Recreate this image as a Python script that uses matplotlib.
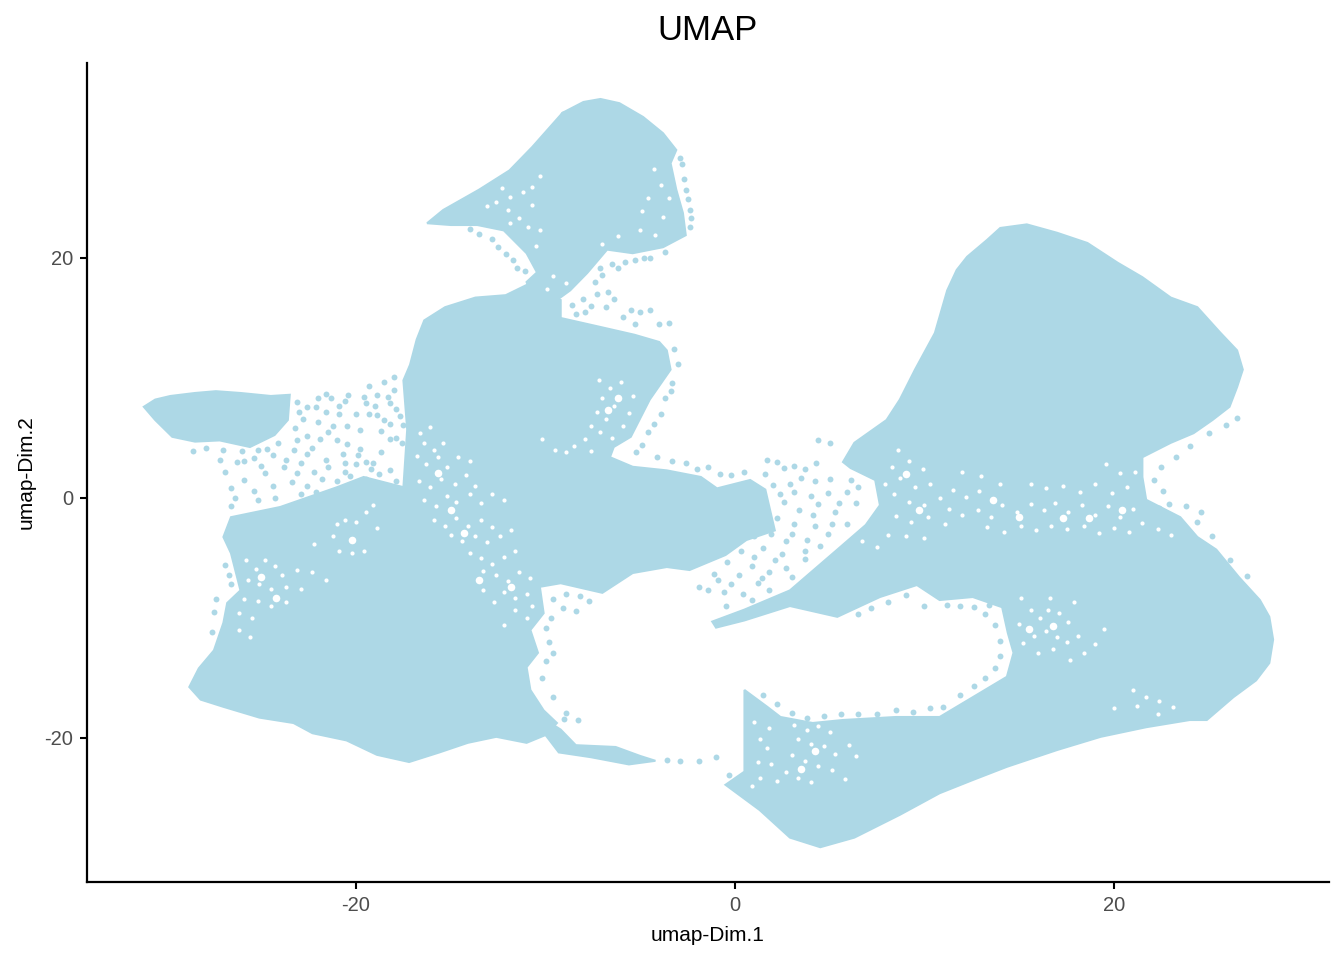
import matplotlib
matplotlib.use("Agg")
import matplotlib.pyplot as plt

plt.rcParams['font.family'] = ['Liberation Sans', 'DejaVu Sans']

POINT = '#ADD8E6'

wing = [(-31.2,7.6),(-30.6,8.2),(-29.8,8.5),(-28.5,8.75),(-27.4,8.9),(-26.1,8.75),(-24.5,8.5),(-23.5,8.6),(-23.6,6.5),(-24.3,5.25),(-25.6,4.25),(-27.2,4.8),(-28.5,4.7),(-29.7,5.1),(-30.6,6.5)]
left_mass = [(-16.4,14.8),(-15.3,15.9),(-13.7,16.7),(-12.1,16.9),(-11.0,17.75),(-9.2,16.5),(-9.2,15.0),(-7.1,14.25),(-5.3,13.6),(-4.0,13.0),(-3.6,12.3),(-3.4,10.7),(-4.5,8.2),(-5.5,5.1),(-6.4,4.25),(-6.6,3.4),(-5.4,2.6),(-3.6,2.3),(-1.8,1.75),(-0.95,0.8),(0.8,1.5),(1.6,0.7),(1.85,-1.0),(2.1,-2.7),(0.6,-3.5),(-0.5,-4.75),(-2.4,-6.0),(-3.6,-5.75),(-5.4,-6.25),(-7.0,-7.9),(-9.2,-7.1),(-10.3,-7.4),(-10.1,-9.6),(-10.8,-11.0),(-10.4,-12.9),(-11.0,-14.1),(-10.8,-16.0),(-10.1,-17.7),(-9.4,-18.75),(-10.0,-19.75),(-11.0,-20.4),(-12.6,-19.9),(-14.1,-20.4),(-15.6,-21.2),(-17.2,-22.0),(-18.9,-21.4),(-20.5,-20.2),(-22.3,-19.6),(-23.3,-18.75),(-25.1,-18.3),(-27.0,-17.4),(-28.2,-16.8),(-28.8,-15.75),(-28.3,-14.2),(-27.5,-12.7),(-27.0,-10.4),(-26.8,-8.75),(-26.1,-7.7),(-26.6,-4.6),(-27.0,-3.25),(-26.6,-1.6),(-24.0,-0.75),(-21.0,0.9),(-19.6,1.75),(-17.5,0.9),(-17.3,5.7),(-17.5,9.8),(-17.15,11.1),(-16.8,13.2)]
tail = [(-10.0,-18.5),(-9.2,-19.3),(-8.4,-20.6),(-6.3,-20.75),(-5.0,-21.5),(-4.2,-21.9),(-5.6,-22.2),(-7.6,-21.6),(-9.3,-21.2),(-10.0,-19.75)]
head = [(-16.25,22.9),(-15.4,24.0),(-13.5,25.7),(-11.9,27.3),(-10.7,29.25),(-9.1,32.1),(-8.0,33.0),(-7.1,33.25),(-6.1,32.9),(-4.85,31.75),(-3.8,30.4),(-3.1,29.0),(-3.4,27.9),(-3.1,25.7),(-2.75,23.75),(-2.6,21.9),(-3.8,20.9),(-5.4,20.4),(-6.75,20.7),(-7.8,18.75),(-8.7,17.3),(-9.4,16.5),(-10.7,16.75),(-11.0,18.0),(-10.45,18.8),(-11.0,20.4),(-12.2,22.3),(-13.6,22.75),(-15.0,22.75)]
right_mass = [(10.55,13.75),(11.2,17.3),(11.7,19.0),(12.25,20.1),(13.3,21.5),(14.0,22.5),(15.4,22.8),(17.0,22.1),(18.6,21.25),(20.2,19.6),(21.5,18.4),(23.0,16.7),(24.4,15.9),(25.6,13.8),(26.5,12.3),(26.8,10.7),(26.5,9.25),(26.1,7.6),(25.2,6.5),(24.2,5.4),(23.0,4.6),(21.5,3.4),(21.5,1.75),(21.7,-0.15),(23.5,-1.6),(24.4,-3.25),(25.4,-4.3),(26.6,-6.6),(27.7,-8.5),(28.2,-9.9),(28.4,-11.8),(28.2,-13.75),(27.5,-15.2),(26.3,-16.6),(24.9,-18.5),(24.0,-18.5),(21.7,-19.1),(19.3,-19.9),(17.0,-21.0),(14.35,-22.4),(12.55,-23.5),(10.8,-24.6),(8.7,-26.4),(6.3,-28.3),(4.5,-29.1),(2.9,-28.3),(1.3,-26.0),(-0.5,-23.9),(0.5,-22.8),(0.5,-20.6),(0.5,-16.0),(1.7,-17.4),(2.4,-18.25),(4.1,-18.75),(5.7,-18.5),(8.5,-18.25),(10.8,-18.25),(12.55,-16.6),(14.35,-14.9),(14.7,-12.9),(14.4,-11.25),(14.1,-9.1),(12.55,-8.25),(10.8,-8.5),(9.6,-7.25),(7.65,-8.25),(5.4,-9.9),(2.9,-9.0),(0.5,-10.2),(-1.0,-10.8),(-1.2,-10.3),(0.5,-9.3),(2.9,-7.7),(5.4,-4.3),(6.9,-2.25),(7.65,-0.6),(7.4,1.5),(6.1,2.5),(5.7,3.0),(6.3,4.6),(8.0,6.5),(8.7,8.2),(9.5,10.7)]
outlines = [wing, left_mass, tail, head, right_mass]

# Loose points outside the solid areas
loose_wing = [(-23.1,4.8),(-21.9,4.9),(-21.0,4.8),(-20.5,4.5),(-19.8,4.1),(-22.6,3.7),(-20.7,3.7),(-19.9,3.6),(-21.6,3.2),(-20.6,2.9),(-20.0,2.8),(-19.5,3.0),(-19.1,2.9),(-18.7,3.8),(-18.5,6.5),(-17.7,6.8),(-18.2,6.2),(-18.7,5.6),(-17.9,5.0),(-17.6,4.6),(-17.5,6.1),(-22.0,6.3),(-21.2,6.0),(-20.5,6.0),(-19.8,5.7),(-20.9,7.0),(-20.0,7.0),(-19.3,7.0),(-19.0,7.7),(-18.2,7.9),(-18.9,8.6),(-18.0,9.0),(-19.6,8.4),(-20.6,8.1),(-21.3,8.3),(-22.0,8.3),(-22.6,7.6),(-21.6,7.2),(-22.8,6.6),(-23.2,5.8),(-24.4,3.6),(-25.4,3.3),(-26.3,3.0),(-27.2,3.2),(-23.8,2.6),(-22.9,2.9),(-22.2,2.2),(-24.8,2.1),(-25.9,1.5),(-26.6,0.8),(-25.4,0.6),(-24.4,1.0),(-23.4,1.3),(-22.6,1.0),(-21.8,1.6),(-21.0,1.4),(-20.3,1.8),(-19.5,1.6),(-18.8,2.0),(-18.2,2.3),(-17.9,1.4),(-25.2,-0.2),(-24.3,0.0),(-22.9,0.3),(-22.1,0.5),(-26.4,0.0),(-27.0,4.0),(-26.0,3.9),(-25.2,4.0),(-23.3,4.0),(-22.3,4.2),(-18.2,4.9),(-24.1,4.6),(-23.7,3.2),(-25.0,2.7),(-26.9,2.2),(-23.1,2.1),(-21.5,2.6),(-20.6,2.2),(-19.2,2.4),(-22.6,5.2),(-21.5,5.5),(-18.9,6.9),(-17.9,7.4),(-18.3,8.4),(-19.5,7.9),(-20.9,7.7),(-22.1,7.6),(-23.0,7.2),(-23.1,8.0),(-21.6,8.7),(-20.4,8.6),(-19.3,9.3),(-18.5,9.7),(-18.0,10.1),(-24.7,4.1),(-25.9,3.1),(-27.9,4.2),(-28.6,3.9)]
loose_center_edge = [(-3.2,12.4),(-3.0,11.2),(-3.3,9.6),(-3.7,8.3),(-3.9,7.0),(-4.3,6.2),(-3.4,8.9),(-4.6,5.5),(-4.9,4.4),(-5.2,3.8),(-4.1,3.4),(-3.3,3.1),(-2.6,2.9),(-2.0,2.4),(-1.4,2.6),(-0.8,2.0),(-0.2,1.9),(0.5,2.2),(-8.2,-8.2),(-7.7,-8.6),(-8.9,-8.0),(-9.6,-8.4),(-9.1,-9.2),(-8.4,-9.4),(-9.7,-10.0),(-10.0,-10.8),(-9.8,-12.0),(-9.6,-12.9),(-10.0,-13.6),(-10.2,-15.0),(-9.6,-16.6),(-8.9,-17.9),(-8.3,-18.5),(-9.0,-18.4),(-3.6,-21.8),(-2.9,-21.9),(-1.9,-21.9),(-1.0,-21.6),(-0.3,-23.1),(-27.5,-9.5),(-27.4,-8.4),(-27.6,-11.2),(-26.7,-6.4),(-26.9,-5.6),(-26.6,-7.2),(-26.6,-0.7)]
loose_head = [(-9.1,32.0),(-2.9,28.3),(-2.8,27.8),(-2.7,26.6),(-2.6,25.7),(-2.5,24.9),(-2.4,24.0),(-2.3,23.3),(-2.4,22.6),(-4.5,20.0),(-5.3,19.8),(-5.8,19.7),(-6.5,19.5),(-7.1,19.2),(-6.2,19.2),(-4.8,20.0),(-3.7,20.5),(-7.0,18.6),(-7.4,18.0),(-6.7,17.2),(-6.4,16.6),(-7.3,17.0),(-6.8,15.9),(-5.9,15.1),(-5.5,15.7),(-5.0,15.5),(-4.5,15.7),(-5.3,14.5),(-4.0,14.5),(-3.5,14.6),(-8.0,16.6),(-7.6,16.0),(-7.9,15.5),(-8.6,16.1),(-8.4,15.3),(-14.0,22.4),(-13.5,22.0),(-12.8,21.6),(-12.5,20.9),(-12.1,20.3),(-11.7,19.8),(-11.5,19.2),(-11.1,18.9)]
loose_gap = [(1.7,3.2),(2.2,3.0),(2.6,2.5),(1.6,2.0),(2.0,1.1),(3.1,2.7),(3.7,2.4),(4.4,4.8),(5.0,4.6),(3.5,1.7),(4.2,1.4),(5.0,1.6),(3.1,0.5),(4.0,0.2),(4.9,0.4),(5.9,0.5),(2.6,-0.3),(3.4,-1.0),(4.4,-0.5),(5.3,-1.2),(6.4,-0.4),(3.1,-2.2),(4.2,-2.3),(4.9,-3.0),(5.9,-2.2),(2.7,-3.6),(3.8,-3.5),(2.5,-4.7),(1.5,-4.2),(1.0,-3.2),(0.3,-4.4),(-0.4,-5.3),(0.9,-5.7),(1.8,-6.2),(2.7,-5.8),(3.7,-5.1),(4.5,-4.0),(-0.9,-6.8),(0.2,-6.4),(1.2,-7.1),(-1.4,-7.7),(-0.6,-7.8),(0.4,-8.0),(1.8,-7.7),(-0.5,-9.0),(-1.9,-7.4),(-1.1,-6.3),(2.2,-1.7),(1.9,-3.0),(3.0,-3.0),(4.1,-1.4),(5.1,-2.2),(5.5,-0.4),(2.9,1.2),(4.3,2.9),(2.4,0.3),(3.7,-4.4),(1.0,-4.9),(-0.2,-7.2),(0.9,-8.5),(1.4,-6.7),(2.1,-5.2),(3.0,-6.6),(6.5,0.9),(6.1,1.5)]
loose_right_edge = [(22.1,1.5),(22.6,0.6),(22.9,-0.5),(22.5,2.6),(23.3,3.4),(24.0,4.3),(25.0,5.4),(25.9,6.1),(26.5,6.7),(24.4,-2.0),(25.2,-3.2),(26.1,-5.2),(27.0,-6.5),(22.4,-0.8),(23.8,-0.7),(24.6,-1.2)]
loose_hole_edge = [(13.4,-8.9),(12.6,-9.1),(11.9,-9.0),(11.2,-8.9),(13.2,-9.7),(13.7,-10.6),(14.0,-11.9),(14.0,-13.2),(13.7,-14.2),(13.2,-15.0),(12.6,-15.7),(11.9,-16.4),(11.0,-17.4),(10.3,-17.5),(9.4,-17.8),(8.5,-17.7),(7.5,-18.0),(6.5,-18.0),(5.6,-18.0),(4.7,-18.2),(3.8,-18.3),(3.0,-17.9),(2.2,-17.2),(1.5,-16.4),(9.0,-8.1),(8.1,-8.7),(7.2,-9.2),(6.5,-9.7),(10.0,-9.0)]
loose_sets = [loose_wing, loose_center_edge, loose_head, loose_gap, loose_right_edge, loose_hole_edge]

# Small white places between the points inside the solid areas
gaps_small = [(-21.0,-2.2),(-20.6,-1.8),(-20.0,-2.0),(-19.5,-1.2),(-19.1,-0.6),(-21.2,-3.2),(-19.6,-4.4),(-20.2,-4.6),(-20.9,-4.4),(-22.2,-3.8),(-18.9,-2.5),
(-25.8,-5.2),(-25.3,-5.9),(-24.8,-5.2),(-24.3,-5.7),(-23.9,-6.4),(-23.1,-6.0),(-25.7,-6.8),(-25.1,-7.2),(-24.5,-7.6),(-23.7,-7.4),(-25.9,-8.4),(-25.2,-8.6),(-24.5,-9.0),(-23.7,-8.7),(-26.2,-9.6),(-25.5,-10.0),(-22.3,-6.2),(-21.6,-6.8),(-22.9,-7.6),(-26.2,-11.0),(-25.6,-11.6),
(-16.7,1.4),(-16.1,0.9),(-15.5,1.6),(-14.8,1.2),(-14.2,1.9),(-13.7,1.0),(-16.4,-0.2),(-15.8,-0.7),(-15.2,0.2),(-14.7,-0.3),(-14.0,0.3),(-13.4,-0.4),(-12.8,0.3),(-12.2,-0.2),(-16.8,3.5),(-16.3,2.8),(-15.7,3.4),(-15.2,2.6),(-16.4,4.6),(-15.9,4.0),(-16.6,5.4),(-16.1,5.9),(-15.4,4.6),(-14.6,3.4),(-14.0,3.1),
(-15.9,-1.8),(-15.3,-2.3),(-14.7,-1.7),(-14.1,-2.3),(-13.4,-1.8),(-12.8,-2.4),(-15.0,-3.1),(-14.4,-3.6),(-13.7,-3.2),(-13.1,-3.7),(-12.4,-3.2),(-11.8,-2.7),(-14.0,-4.6),(-13.4,-5.0),(-12.8,-5.5),(-12.2,-4.9),(-11.6,-4.4),(-13.3,-6.1),(-12.6,-6.4),(-12.0,-6.9),(-11.4,-6.2),(-10.8,-6.7),(-12.2,-7.8),(-11.6,-8.3),(-11.0,-8.0),(-11.6,-9.3),(-11.0,-10.0),(-10.7,-9.0),(-12.7,-8.7),(-13.3,-7.7),(-12.2,-10.6),
(-7.2,9.8),(-6.6,9.2),(-6.0,9.7),(-7.0,8.3),(-6.4,7.7),(-7.3,7.2),(-6.8,6.6),(-7.6,6.0),(-7.1,5.5),(-6.5,5.0),(-7.9,4.9),(-8.5,4.3),(-7.6,3.9),(-8.9,3.8),(-9.5,4.0),(-10.2,4.9),(-5.6,7.1),(-5.9,6.0),(-5.4,8.5),
(8.6,4.0),(9.2,3.1),(8.3,2.6),(9.9,2.4),(7.9,1.2),(8.7,1.7),(9.5,0.9),(10.3,1.2),(8.4,0.3),(9.2,-0.3),(10.0,-0.6),(10.8,0.0),(11.5,0.7),(12.2,0.1),(12.9,0.6),(11.3,-0.9),(12.0,-1.4),(12.8,-1.0),(13.5,-1.6),(14.1,-0.6),(14.9,-1.2),(15.6,-0.5),(16.3,-1.0),(16.9,-0.4),(17.6,-1.2),(18.3,-0.6),(19.0,-1.4),(19.7,-0.7),(20.3,-1.6),(21.0,-0.9),(21.5,-2.1),(22.3,-2.6),(23.0,-3.1),(13.3,-2.4),(14.2,-2.8),(15.1,-2.3),(15.9,-2.7),(16.7,-2.3),(17.5,-2.6),(18.4,-2.3),(19.2,-2.9),(20.0,-2.5),(20.8,-2.8),(8.5,-1.5),(9.3,-2.0),(10.2,-1.6),(11.1,-2.2),(8.1,-3.1),(9.0,-3.2),(10.0,-3.3),(7.5,-4.1),(6.7,-3.6),(15.6,1.2),(16.4,0.8),(17.3,1.0),(18.2,0.5),(19.0,1.2),(19.9,0.4),(20.7,0.9),(21.1,2.2),(20.3,2.1),(19.6,2.8),(14.0,1.2),(13.0,1.8),(12.0,2.2),
(15.6,-9.3),(16.1,-10.0),(16.5,-9.3),(17.1,-9.6),(17.6,-10.3),(16.4,-11.1),(17.0,-11.6),(15.8,-11.5),(15.2,-12.1),(16.0,-12.9),(16.8,-12.6),(17.5,-12.0),(18.1,-11.5),(18.4,-12.9),(17.7,-13.5),(19.5,-10.9),(19.0,-12.2),(16.6,-8.3),(17.9,-8.7),(15.0,-10.5),(15.1,-8.3),(21.0,-16.0),(21.7,-16.6),(22.4,-16.9),(23.1,-17.4),(21.2,-17.3),(22.3,-18.0),(20.0,-17.5),
(3.1,-18.9),(3.8,-19.3),(4.4,-19.0),(5.0,-19.5),(3.3,-20.1),(4.0,-20.5),(4.7,-20.7),(5.3,-21.3),(3.0,-21.4),(3.7,-21.9),(4.4,-22.3),(5.1,-22.7),(2.7,-22.8),(3.3,-23.3),(4.0,-23.7),(1.7,-20.8),(1.3,-20.1),(1.0,-18.7),(1.8,-19.2),(1.2,-22.0),(1.9,-22.2),(1.3,-23.3),(2.2,-23.6),(0.9,-24.0),(6.0,-20.6),(6.4,-21.5),(5.8,-23.4),
(-12.3,25.8),(-12.6,24.7),(-11.9,25.1),(-11.2,25.5),(-13.1,24.3),(-12.0,24.0),(-11.4,23.3),(-10.7,24.4),(-10.9,22.6),(-11.9,22.9),(-10.3,22.3),(-10.3,26.8),(-10.7,25.9),(-10.5,21.0),(-4.3,27.4),(-3.9,26.1),(-4.6,25.0),(-3.5,25.0),(-4.9,23.9),(-3.8,23.4),(-5.0,22.3),(-4.2,21.9),(-6.2,21.8),(-7.0,21.2),(-9.6,18.5),(-8.9,17.9),(-9.9,17.4)]
gaps_large = [(-20.2,-3.5),(-25.0,-6.6),(-24.2,-8.3),(-15.0,-1.0),(-14.3,-2.9),(-13.5,-6.8),(-15.7,2.1),(-11.8,-7.4),(-6.2,8.3),(-6.7,7.3),(9.0,2.0),(9.7,-1.0),(13.6,-0.2),(15.0,-1.6),(17.3,-1.7),(18.7,-1.7),(20.4,-1.0),(16.8,-10.7),(15.5,-10.9),(4.2,-21.1),(3.5,-22.6)]

x_ticks = [-20, 0, 20]
y_ticks = [-20, 0, 20]

fig = plt.figure(figsize=(13.44, 9.6), dpi=100)
ax = fig.add_axes([87/1344, 1-882/960, (1329-87)/1344, (882-63)/960])

for outline in outlines:
    xs, ys = zip(*outline)
    ax.fill(xs, ys, facecolor=POINT, edgecolor=POINT, linewidth=1.5, zorder=2)
xs, ys = zip(*gaps_small)
ax.scatter(xs, ys, s=9, color='white', linewidths=0, zorder=3)
xs, ys = zip(*gaps_large)
ax.scatter(xs, ys, s=30, color='white', linewidths=0, zorder=3)
for group in loose_sets:
    xs, ys = zip(*group)
    ax.scatter(xs, ys, s=18, color=POINT, linewidths=0, zorder=4)

ax.set_xlim(-34.2, 31.35)
ax.set_ylim(-32.0, 36.25)
ax.set_xticks(x_ticks)
ax.set_yticks(y_ticks)
ax.set_xticklabels([str(v) for v in x_ticks])
ax.set_yticklabels([str(v) for v in y_ticks])
ax.tick_params(axis='both', labelsize=14.5, labelcolor='#4D4D4D', color='black', width=1.5, length=5, pad=5)
for side in ['top', 'right']:
    ax.spines[side].set_visible(False)
for side in ['left', 'bottom']:
    ax.spines[side].set_linewidth(1.6)
ax.set_xlabel('umap-Dim.1', fontsize=15, color='black', labelpad=8)
ax.set_ylabel('umap-Dim.2', fontsize=15, color='black', labelpad=6)
fig.text(708/1344, 1-30/960, 'UMAP', fontsize=25, color='black', ha='center', va='center')

fig.savefig('out.png', dpi=100)
